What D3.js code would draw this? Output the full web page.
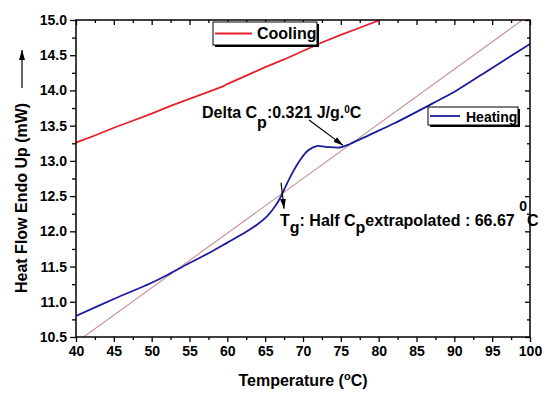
<!DOCTYPE html>
<html>
<head>
<meta charset="utf-8">
<script src="https://cdn.jsdelivr.net/npm/d3@7"></script>
<style>
  body { margin: 0; background: #fff; }
  text { font-family: Arial, "Liberation Sans", sans-serif; font-weight: bold; }
</style>
</head>
<body>
<div id="chart"></div>
<script>
// DATA
const coolingT = [40, 42.5, 45, 47.5, 50, 52.5, 55, 57.5, 59.5, 59.8, 60.2, 62.5, 65, 67.5, 70, 72.5, 75, 77.5, 80.2];
const coolingY = [13.26, 13.36, 13.47, 13.57, 13.67, 13.78, 13.88, 13.98, 14.06, 14.08, 14.10, 14.21, 14.33, 14.44, 14.56, 14.68, 14.79, 14.89, 15.0];

const heatingT = [40, 45, 50, 52.4, 55, 57.7, 60, 62.6, 64, 65.2, 66, 66.7, 67.2, 68.3, 69.6, 70.7, 71.8, 73, 74.9, 76.2, 78.8, 82, 87.2, 90.3, 95, 100];
const heatingY = [10.80, 11.04, 11.27, 11.40, 11.55, 11.70, 11.84, 12.00, 12.10, 12.21, 12.31, 12.42, 12.52, 12.77, 13.01, 13.15, 13.21, 13.20, 13.19, 13.24, 13.37, 13.53, 13.82, 14.00, 14.32, 14.66];

const tangentT = [41, 99];
const tangentY = [10.5, 15.0];

const xTicks = [40, 45, 50, 55, 60, 65, 70, 75, 80, 85, 90, 95, 100];
const yTicks = [10.5, 11.0, 11.5, 12.0, 12.5, 13.0, 13.5, 14.0, 14.5, 15.0];

//DIMENSIONS
const width = 550, height = 398;
const margin = {top: 20, right: 20, bottom: 61, left: 76};
const w = width - margin.left - margin.right;
const h = height - margin.top - margin.bottom;

const svg = d3.select('#chart').append('svg')
  .attr('width', width).attr('height', height);

const defs = svg.append('defs');
defs.append('marker')
  .attr('id', 'head')
  .attr('viewBox', '0 0 10 6')
  .attr('refX', 10).attr('refY', 3)
  .attr('markerWidth', 10).attr('markerHeight', 6)
  .attr('markerUnits', 'userSpaceOnUse')
  .attr('orient', 'auto')
  .append('path').attr('d', 'M0,0 L10,3 L0,6 Z').attr('fill', '#000');
defs.append('clipPath').attr('id', 'clip')
  .append('rect').attr('width', w).attr('height', h);

const g = svg.append('g').attr('transform', `translate(${margin.left},${margin.top})`);

//SCALES
const x = d3.scaleLinear().domain([40, 100]).range([0, w]);
const y = d3.scaleLinear().domain([10.5, 15.0]).range([h, 0]);

const xMinor = d3.range(42.5, 100, 5);
const yMinor = d3.range(10.75, 15, 0.5);

//AXES
function styleAxis(sel) {
  sel.select('.domain').remove();
  sel.selectAll('line').attr('stroke', '#000').attr('stroke-width', 1.3);
  sel.selectAll('text').attr('font-size', 14).attr('fill', '#000');
}
// bottom
g.append('g').attr('transform', `translate(0,${h})`)
  .call(d3.axisBottom(x).tickValues(xTicks).tickSize(5).tickPadding(4).tickFormat(d3.format('d')))
  .call(styleAxis);
g.append('g').attr('transform', `translate(0,${h})`)
  .call(d3.axisBottom(x).tickValues(xMinor).tickSize(3).tickFormat(''))
  .call(styleAxis);
// left
g.append('g')
  .call(d3.axisLeft(y).tickValues(yTicks).tickSize(6).tickPadding(3).tickFormat(d3.format('.1f')))
  .call(styleAxis);
g.append('g')
  .call(d3.axisLeft(y).tickValues(yMinor).tickSize(4).tickFormat(''))
  .call(styleAxis);
// top (inward)
g.append('g')
  .call(d3.axisTop(x).tickValues(xTicks).tickSize(-5).tickFormat(''))
  .call(styleAxis);
g.append('g')
  .call(d3.axisTop(x).tickValues(xMinor).tickSize(-3).tickFormat(''))
  .call(styleAxis);
// right (inward)
g.append('g').attr('transform', `translate(${w},0)`)
  .call(d3.axisRight(y).tickValues(yTicks).tickSize(-5).tickFormat(''))
  .call(styleAxis);
g.append('g').attr('transform', `translate(${w},0)`)
  .call(d3.axisRight(y).tickValues(yMinor).tickSize(-3).tickFormat(''))
  .call(styleAxis);

//LINES
const line = d3.line().x(d => x(d[0])).y(d => y(d[1]));
const plot = g.append('g').attr('clip-path', 'url(#clip)');

plot.append('path')
  .datum(d3.zip(tangentT, tangentY))
  .attr('fill', 'none').attr('stroke', '#c99090').attr('stroke-width', 1.1)
  .attr('d', line);

plot.append('path')
  .datum(d3.zip(coolingT, coolingY))
  .attr('fill', 'none').attr('stroke', '#e8202c').attr('stroke-width', 1.8)
  .attr('d', line);

plot.append('path')
  .datum(d3.zip(heatingT, heatingY))
  .attr('fill', 'none').attr('stroke', '#1c1ca0').attr('stroke-width', 1.8)
  .attr('d', line.curve(d3.curveCatmullRom));

//FRAME
g.append('rect').attr('width', w).attr('height', h)
  .attr('fill', 'none').attr('stroke', '#000').attr('stroke-width', 1.5);

//ANNOTATIONS
g.append('line')
  .attr('x1', x(70.8)).attr('y1', y(13.58))
  .attr('x2', x(75.3)).attr('y2', y(13.22))
  .attr('stroke', '#000').attr('stroke-width', 1.2)
  .attr('marker-end', 'url(#head)');
g.append('line')
  .attr('x1', x(67.1)).attr('y1', y(12.69))
  .attr('x2', x(67.5)).attr('y2', y(12.32))
  .attr('stroke', '#000').attr('stroke-width', 1.2)
  .attr('marker-end', 'url(#head)');

const t1 = g.append('text')
  .attr('x', x(56.65)).attr('y', y(13.61)).attr('font-size', 16);
t1.append('tspan').text('Delta C');
t1.append('tspan').attr('dy', 10).text('p');
t1.append('tspan').attr('dy', -10).text(':0.321 J/g.');
t1.append('tspan').attr('dy', -5).attr('font-size', 10).text('0');
t1.append('tspan').attr('dy', 5).text('C');

const t2 = g.append('text')
  .attr('x', x(66.96)).attr('y', y(12.07)).attr('font-size', 16);
t2.append('tspan').text('T');
t2.append('tspan').attr('dy', 7).text('g');
t2.append('tspan').attr('dy', -7).text(': Half C');
t2.append('tspan').attr('dy', 7).text('p');
t2.append('tspan').attr('dy', -7).text('extrapolated : 66.67 ');
t2.append('tspan').attr('dy', -15).attr('font-size', 14).text('0');
t2.append('tspan').attr('dy', 15).text('C');

//LEGENDS
function legend(x0, y0, bw, bh, color, label, fs, lineLen, textX, textY) {
  const lg = svg.append('g').attr('transform', `translate(${x0},${y0})`);
  lg.append('rect').attr('x', 2).attr('y', 2).attr('width', bw).attr('height', bh).attr('fill', '#000');
  lg.append('rect').attr('width', bw).attr('height', bh).attr('fill', '#fff').attr('stroke', '#000').attr('stroke-width', 1);
  lg.append('line').attr('x1', 2).attr('x2', 2 + lineLen).attr('y1', bh / 2).attr('y2', bh / 2)
    .attr('stroke', color).attr('stroke-width', 1.8);
  lg.append('text').attr('x', textX).attr('y', textY).attr('font-size', fs).text(label);
}
legend(213, 22, 104, 23, '#e8202c', 'Cooling', 16, 37, 44, 17);
legend(428, 107, 90, 18, '#1c1ca0', 'Heating', 14, 30, 38, 15);

//AXIS TITLES
const xt = svg.append('text')
  .attr('x', margin.left + w / 2).attr('y', 386)
  .attr('text-anchor', 'middle').attr('font-size', 16);
xt.append('tspan').text('Temperature (');
xt.append('tspan').attr('dy', -6).attr('font-size', 11).text('o');
xt.append('tspan').attr('dy', 6).text('C)');

svg.append('text')
  .attr('transform', 'translate(27,293) rotate(-90)')
  .attr('font-size', 16)
  .text('Heat Flow Endo Up (mW)');

svg.append('line')
  .attr('x1', 22).attr('y1', 88).attr('x2', 22).attr('y2', 50)
  .attr('stroke', '#000').attr('stroke-width', 1.2)
  .attr('marker-end', 'url(#head)');
</script>
</body>
</html>
